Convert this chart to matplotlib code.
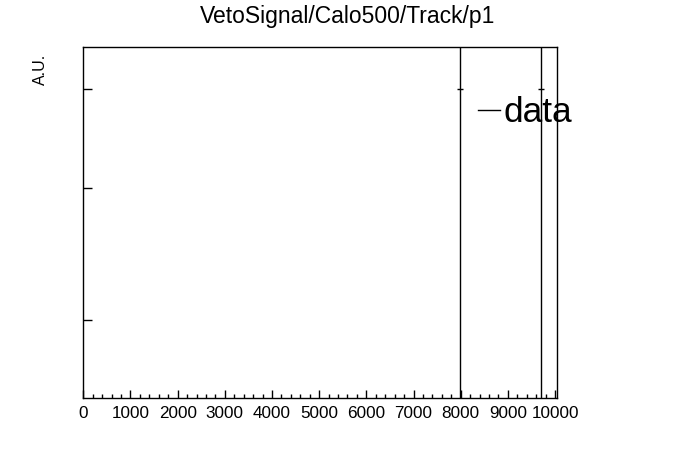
import numpy as np
import matplotlib
matplotlib.use("Agg")
import matplotlib.pyplot as plt
from matplotlib.lines import Line2D
from matplotlib.ticker import MultipleLocator, FixedLocator, NullFormatter, NullLocator

plt.rcParams['font.family'] = ['Liberation Sans', 'DejaVu Sans']

# histogram entries (x position, content) and their errors
x_vals = np.array([7975, 9700])
y_vals = np.array([10.0, 10.0])
x_err = np.array([64, 64])
y_err_low = np.array([9.99, 9.99])
y_err_high = np.array([1000.0, 1000.0])

title = "VetoSignal/Calo500/Track/p1"
y_label = "A.U."
legend_label = "data"
x_ticks = np.arange(0, 10001, 1000)

fig = plt.figure(figsize=(6.96, 4.72), dpi=100)
ax = fig.add_axes([83.3 / 696, 1 - 398 / 472, (556.7 - 83.3) / 696, (398 - 47) / 472])

ax.errorbar(x_vals, y_vals, xerr=x_err, yerr=[y_err_low, y_err_high],
            fmt='none', ecolor='black', elinewidth=1, capsize=0)

ax.set_yscale('log')
ax.set_ylim(1.16, 13.4)
ax.set_xlim(0, 10035)

ax.xaxis.set_major_locator(FixedLocator(x_ticks))
ax.xaxis.set_minor_locator(MultipleLocator(200))
ax.set_xticklabels([str(t) for t in x_ticks])
ax.yaxis.set_major_locator(FixedLocator([2, 5, 10]))
ax.yaxis.set_minor_locator(NullLocator())
ax.yaxis.set_major_formatter(NullFormatter())
ax.yaxis.set_minor_formatter(NullFormatter())

ax.tick_params(axis='x', which='major', direction='in', length=5.5, width=1,
               labelsize=12.3, pad=5.5, top=False)
ax.tick_params(axis='x', which='minor', direction='in', length=2.7, width=1, top=False)
ax.tick_params(axis='y', which='major', direction='in', length=6.3, width=1, right=False)

for s in ax.spines.values():
    s.set_linewidth(1)
    s.set_color('black')

fig.text(0.5, 1 - 23 / 472, title, ha='center', va='baseline', fontsize=16.5)
fig.text(40 / 696, 1 - 54 / 472, y_label, rotation=90, ha='center', va='top', fontsize=11.5)

leg = ax.legend(handles=[Line2D([], [], color='black', lw=1)], labels=[legend_label],
                loc='upper left', bbox_to_anchor=(478 / 696, 1 - 96 / 472),
                bbox_transform=fig.transFigure, frameon=False, fontsize=25.4,
                handlelength=0.62, handletextpad=0.1, borderpad=0, borderaxespad=0)

fig.savefig("out.png", dpi=100)
